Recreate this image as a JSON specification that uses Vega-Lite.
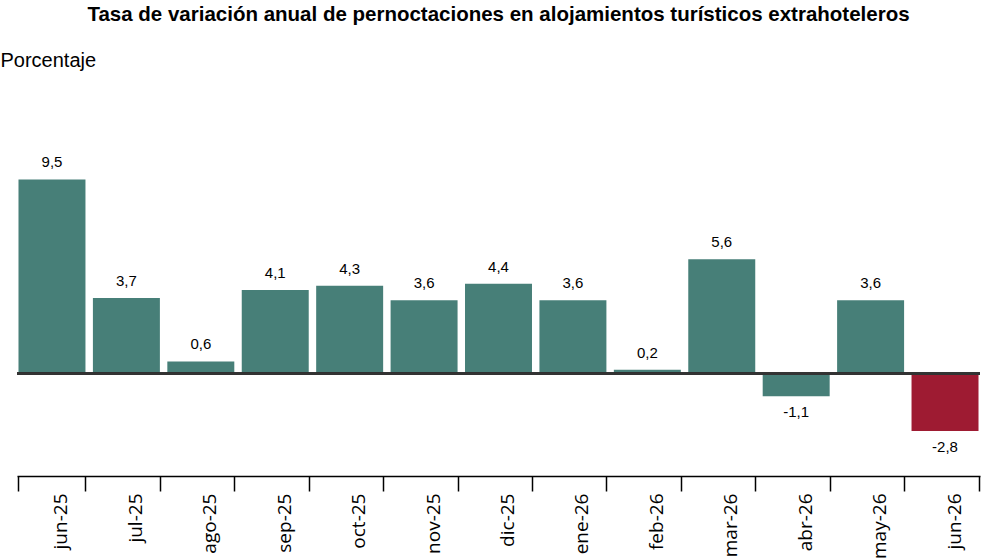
{
  "$schema": "https://vega.github.io/schema/vega-lite/v6.json",
  "width": 963,
  "height": 409,
  "autosize": "none",
  "padding": {"left": 17, "top": 67, "right": 13, "bottom": 83},
  "background": "white",
  "title": {
    "text": "Tasa de variación anual de pernoctaciones en alojamientos turísticos extrahoteleros",
    "font": "Liberation Sans",
    "fontSize": 20.5,
    "fontWeight": "bold",
    "color": "#000000",
    "anchor": "middle",
    "offset": 25
  },
  "config": {
    "view": {"stroke": null},
    "locale": {
      "number": {"decimal": ",", "thousands": ".", "grouping": [3], "currency": ["", " €"], "minus": "-"}
    }
  },
  "data": {
    "values": [
      {"mes": "jun-25", "valor": 9.5},
      {"mes": "jul-25", "valor": 3.7},
      {"mes": "ago-25", "valor": 0.6},
      {"mes": "sep-25", "valor": 4.1},
      {"mes": "oct-25", "valor": 4.3},
      {"mes": "nov-25", "valor": 3.6},
      {"mes": "dic-25", "valor": 4.4},
      {"mes": "ene-26", "valor": 3.6},
      {"mes": "feb-26", "valor": 0.2},
      {"mes": "mar-26", "valor": 5.6},
      {"mes": "abr-26", "valor": -1.1},
      {"mes": "may-26", "valor": 3.6},
      {"mes": "jun-26", "valor": -2.8}
    ]
  },
  "encoding": {
    "x": {
      "field": "mes",
      "type": "nominal",
      "sort": null,
      "scale": {"paddingInner": 0.1, "paddingOuter": 0.02},
      "axis": {
        "title": null,
        "orient": "bottom",
        "domain": true,
        "domainColor": "#000000",
        "domainWidth": 1.5,
        "ticks": true,
        "tickBand": "extent",
        "tickSize": 15,
        "tickColor": "#000000",
        "tickWidth": 1.5,
        "labelAngle": -90,
        "labelFont": "Open Sans",
        "labelFontSize": 19,
        "labelColor": "#000000",
        "labelPadding": 2,
        "labelOffset": 9,
        "grid": false
      }
    },
    "y": {
      "field": "valor",
      "type": "quantitative",
      "scale": {"domain": [-5, 15], "nice": false, "zero": false},
      "axis": {
        "title": "Porcentaje",
        "titleAngle": 0,
        "titleX": -17,
        "titleY": -1,
        "titleAlign": "left",
        "titleBaseline": "alphabetic",
        "titleFont": "Liberation Sans",
        "titleFontSize": 20,
        "titleFontWeight": "normal",
        "titleColor": "#000000",
        "domain": false,
        "labels": false,
        "ticks": false,
        "grid": false
      }
    }
  },
  "layer": [
    {
      "mark": {"type": "bar"},
      "encoding": {
        "color": {
          "condition": {"test": "datum.mes === 'jun-26'", "value": "#9E1B32"},
          "value": "#477F78"
        }
      }
    },
    {
      "mark": {"type": "rule", "color": "#333333", "strokeWidth": 2},
      "encoding": {"y": {"datum": 0}, "x": null}
    },
    {
      "transform": [{"filter": "datum.valor >= 0"}],
      "mark": {"type": "text", "baseline": "bottom", "dy": -9, "font": "Liberation Sans", "fontSize": 15, "color": "#000000"},
      "encoding": {"text": {"field": "valor", "type": "quantitative", "format": ".1f"}}
    },
    {
      "transform": [{"filter": "datum.valor < 0"}],
      "mark": {"type": "text", "baseline": "top", "dy": 9, "font": "Liberation Sans", "fontSize": 15, "color": "#000000"},
      "encoding": {"text": {"field": "valor", "type": "quantitative", "format": ".1f"}}
    }
  ]
}
